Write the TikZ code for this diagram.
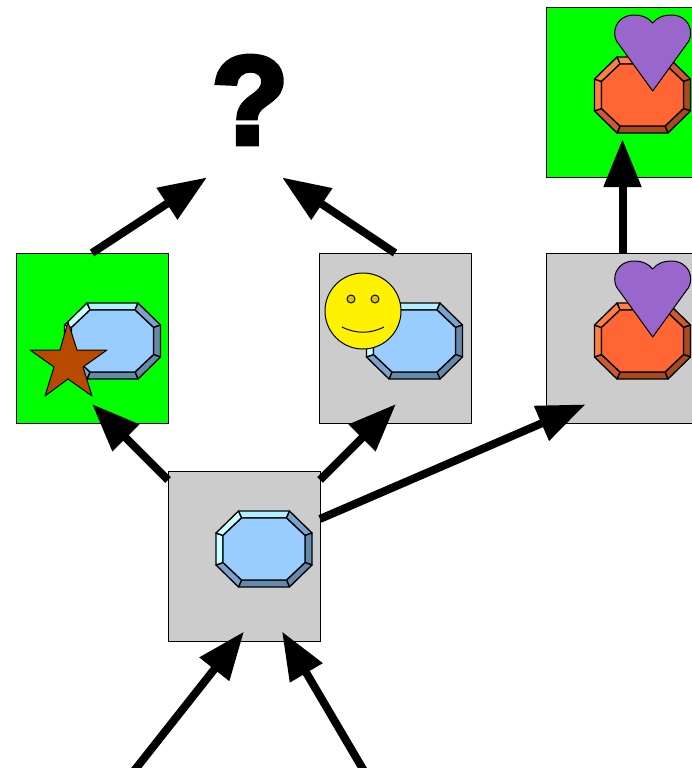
\documentclass[tikz,border=0pt]{standalone}
\usepackage{fontspec}
\usetikzlibrary{arrows.meta}
\newfontfamily\markfont[FakeBold=4.2]{Liberation Sans Bold}

\definecolor{bluea}{HTML}{99CCFF}
\definecolor{blueb}{HTML}{B3F0FF}
\definecolor{bluec}{HTML}{CCFFFF}
\definecolor{blued}{HTML}{7AA3CC}
\definecolor{bluee}{HTML}{6688AA}
\definecolor{orangea}{HTML}{FF6633}
\definecolor{orangeb}{HTML}{FF7F3F}
\definecolor{orangec}{HTML}{FF7F3F}
\definecolor{oranged}{HTML}{CC5A2D}
\definecolor{orangee}{HTML}{A84A20}
\definecolor{boxgrey}{HTML}{CCCCCC}
\definecolor{boxgreen}{HTML}{00FF00}

\tikzset{
  statebox/.style={draw=black,line width=0.5pt,inner sep=0pt,outer sep=0pt,minimum width=114pt,minimum height=127.5pt},
  greybox/.style={statebox,fill=boxgrey},
  greenbox/.style={statebox,fill=boxgreen},
  flow/.style={line width=6pt,-{Triangle[length=36pt,width=27pt]}},
  outline/.style={draw=black,line width=0.75pt,line join=round},
  gemline/.style={outline,line width=1pt},
  heart/.pic={
    \path[yscale=-1,outline,fill={rgb,255:red,153;green,102;blue,204}] (0,0) .. controls (4,-5) and (10,-8) .. (19,-8) .. controls (30,-8) and (38,0) .. (38,10) .. controls (38,15) and (36,19) .. (34,21) -- (0,68) -- (-34,21) .. controls (-36,19) and (-38,15) .. (-38,10) .. controls (-38,0) and (-30,-8) .. (-19,-8) .. controls (-10,-8) and (-4,-5) .. (0,0) -- cycle;
  }
}

% bevelled octagon: centre x, centre y, colour family
\newcommand\drawgem[3]{
  \begin{scope}[shift={(#1,#2)}]
    \foreach \n/\ox/\oy/\ix/\iy in {1/-25.5/-38/-22.5/-31,2/25.5/-38/22.5/-31,3/48/-16/41/-13.5,4/48/16/41/13.5,5/25.5/38/22.5/31,6/-25.5/38/-22.5/31,7/-48/16/-41/13.5,8/-48/-16/-41/-13.5}{
      \coordinate (o\n) at (\ox,\oy);
      \coordinate (i\n) at (\ix,\iy);
    }
    \foreach \a/\b/\c in {1/2/b,2/3/d,3/4/e,4/5/e,5/6/e,6/7/d,7/8/c,8/1/c}{
      \path[gemline,fill=#3\c] (o\a) -- (o\b) -- (i\b) -- (i\a) -- cycle;
    }
    \path[gemline,fill=#3a] (i1) -- (i2) -- (i3) -- (i4) -- (i5) -- (i6) -- (i7) -- (i8) -- cycle;
  \end{scope}
}

\begin{document}
\begin{tikzpicture}[x=0.75pt,y=0.75pt,yscale=-1,xscale=1]
\useasboundingbox (0,0) rectangle (692,768);
\clip (0,0) rectangle (692,768);

%Shape: Boxes
\node[greybox] (basebox) at (244,556) {};
\node[greenbox] (leftbox) at (92,338) {};
\node[greybox] (midbox) at (395,338) {};
\node[greybox] (rightbox) at (622.5,338) {};
\node[greenbox] (topbox) at (622.5,92) {};

%Shape: Octagons
\drawgem{264}{549}{blue}
\drawgem{112.5}{341}{blue}
\drawgem{414.5}{341}{blue}
\drawgem{642.5}{341}{orange}
\drawgem{642.5}{95}{orange}

%Shape: Hearts
\pic at (652.7,269) {heart};
\pic at (652.7,23) {heart};

%Shape: Star
\path[outline,fill={rgb,255:red,184;green,74;blue,0}] (68,322) -- (77,350) -- (107,350) -- (83,367) -- (92,396) -- (68,379) -- (45,396) -- (54,367) -- (30,350) -- (60,350) -- cycle;

%Shape: Face
\path[outline,fill=yellow] (363,311) circle [radius=38];
\path[outline,fill={rgb,255:red,214;green,200;blue,0}] (351,299) circle [radius=4];
\path[outline,fill={rgb,255:red,214;green,200;blue,0}] (375,299) circle [radius=4];
\draw[line width=0.75pt] (342,327) .. controls (356,334) and (370,334) .. (384,327);

% Text Node
\node[inner sep=0pt] (mark) at (250,100) {\markfont\fontsize{94pt}{94pt}\selectfont ?};

%Ends of the arrows
\coordinate (inleft) at (130,776);
\coordinate (inright) at (367,776);
\coordinate (tipinleft) at (244,631.6);
\coordinate (tipinright) at (282,631.5);
\coordinate (tipleft) at (92,404);
\coordinate (tipmid) at (396,404);
\coordinate (tipright) at (585.5,404.4);
\coordinate (tipup) at (622.5,139);
\coordinate (markleft) at (207,177.4);
\coordinate (markright) at (282,177.4);

%Straight Lines
\draw[flow] (inleft) -- (tipinleft);
\draw[flow] (inright) -- (tipinright);
\draw[flow] (basebox.135) -- (tipleft);
\draw[flow] (basebox.45) -- (tipmid);
\draw[flow] (basebox.26.6) -- (tipright);
\draw[flow] (leftbox.north) -- (markleft);
\draw[flow] (midbox.north) -- (markright);
\draw[flow] (rightbox.north) -- (tipup);

\end{tikzpicture}
\end{document}
